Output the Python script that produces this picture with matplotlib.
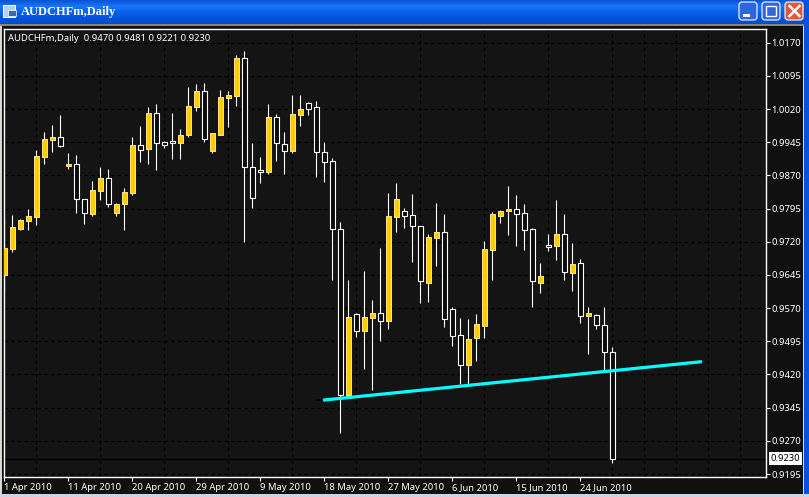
import matplotlib
matplotlib.use("Agg")
import matplotlib.pyplot as plt
import numpy as np
from matplotlib.patches import Rectangle, FancyBboxPatch

# ---- data: daily OHLC ----
high = [.9774,.9781,.9772,.9794,.9927,.9968,.9984,1.0007,.9921,.9916,
        .9817,.9857,.9889,.9884,.9808,.9842,.9957,.9982,1.0025,1.0031,
        .9948,1.0011,.9975,1.0070,1.0077,1.0079,.9966,1.0063,1.0061,1.0142,
        1.0151,.9943,.9912,1.0031,1.0009,.9968,1.0052,1.0052,1.0036,1.0038,
        .9946,.9909,.9765,.9633,.9559,.9654,.9588,.9706,.9830,.9853,
        .9796,.9828,.9756,.9738,.9808,.9783,.9572,.9548,.9545,.9557,
        .9722,.9787,.9792,.9846,.9826,.9805,.9751,.9672,.9738,.9814,
        .9783,.9717,.9681,.9572,.9557,.9572,.9481]
low = [.9609,.9697,.9747,.9747,.9758,.9896,.9923,.9934,.9884,.9785,
       .9760,.9778,.9814,.9799,.9778,.9747,.9826,.9900,.9896,.9882,
       .9932,.9907,.9907,.9957,1.0016,.9946,.9921,.9961,.9979,1.0027,
       .9719,.9796,.9853,.9873,.9903,.9873,.9921,.9982,1.0007,.9866,
       .9855,.9633,.9288,.9369,.9505,.9432,.9385,.9496,.9523,.9742,
       .9751,.9674,.9582,.9584,.9665,.9527,.9484,.9398,.9398,.9450,
       .9503,.9633,.9762,.9735,.9710,.9701,.9572,.9604,.9699,.9679,
       .9633,.9609,.9536,.9466,.9523,.9430,.9221]
open_ = [.9645,.9704,.9749,.9767,.9776,.9912,.9950,.9957,.9891,.9896,
         .9817,.9783,.9835,.9864,.9785,.9805,.9830,.9939,.9930,1.0011,
         .9946,.9948,.9943,.9961,1.0025,1.0061,.9925,.9961,1.0045,1.0050,
         1.0135,.9889,.9882,.9878,1.0002,.9941,.9925,1.0007,1.0034,1.0025,
         .9923,.9903,.9749,.9374,.9557,.9518,.9548,.9559,.9541,.9776,
         .9790,.9781,.9756,.9627,.9729,.9742,.9568,.9509,.9441,.9503,
         .9530,.9701,.9778,.9790,.9794,.9785,.9749,.9627,.9713,.9710,
         .9738,.9649,.9672,.9552,.9554,.9532,.9470]
close = [.9706,.9753,.9769,.9778,.9914,.9952,.9957,.9937,.9896,.9817,
         .9785,.9837,.9864,.9805,.9805,.9833,.9939,.9927,1.0011,.9943,
         .9939,.9943,.9961,1.0027,1.0061,.9952,.9966,1.0047,1.0052,1.0135,
         .9889,.9819,.9878,1.0002,.9943,.9925,1.0009,1.0020,1.0020,.9923,
         .9900,.9749,.9374,.9550,.9518,.9550,.9559,.9541,.9778,.9817,
         .9778,.9756,.9631,.9731,.9742,.9545,.9507,.9441,.9500,.9534,
         .9704,.9783,.9790,.9794,.9783,.9747,.9631,.9642,.9708,.9738,
         .9652,.9670,.9552,.9559,.9532,.9470,.9230]
date_labels = ["1 Apr 2010", "11 Apr 2010", "20 Apr 2010", "29 Apr 2010", "9 May 2010",
               "18 May 2010", "27 May 2010", "6 Jun 2010", "15 Jun 2010", "24 Jun 2010"]
price_ticks = [1.0170, 1.0095, 1.0020, .9945, .9870, .9795, .9720,
               .9645, .9570, .9495, .9420, .9345, .9270, .9195]
trend_x = [39.84, 87.2]
trend_y = [0.9362, 0.9449]

W, H = 809, 497
FONT = "Noto Sans"
FS = 6.8
BG = "#141414"
YELLOW = "#FFCC00"

fig = plt.figure(figsize=(W / 100, H / 100), dpi=100, facecolor="#101010")

# ---- window chrome, in pixel coordinates ----
ch = fig.add_axes([0, 0, 1, 1], zorder=0)
ch.set_xlim(0, W); ch.set_ylim(H, 0); ch.axis("off")
stops = np.array([[0.04, 0.33, 0.85], [0.10, 0.46, 0.98], [0.04, 0.38, 0.92],
                  [0.00, 0.33, 0.88], [0.00, 0.30, 0.80]])
grad = np.array([[stops[min(int(t * 4), 3)] * (1 - (t * 4 - min(int(t * 4), 3))) +
                  stops[min(int(t * 4), 3) + 1] * (t * 4 - min(int(t * 4), 3))]
                 for t in np.linspace(0, 1, 24)])
ch.imshow(grad, extent=(0, W, 24, 0), aspect="auto", interpolation="bilinear", zorder=1)
ch.set_xlim(0, W); ch.set_ylim(H, 0)
ch.add_patch(Rectangle((0, 23.5), W, 2, fc="#8a8778", ec="none", zorder=2))
ch.add_patch(Rectangle((0, 25.5), 2.5, H, fc="#d8d8d0", ec="none", zorder=2))
ch.add_patch(Rectangle((803, 25.5), 1.5, H, fc="#d8d8d0", ec="none", zorder=2))
ch.add_patch(Rectangle((804.5, 0), 5, H, fc="#0a50d8", ec="none", zorder=2))
ch.add_patch(Rectangle((0, 494), W, 3, fc="#c8d4e8", ec="none", zorder=2))
ch.text(21, 11.5, "AUDCHFm,Daily", family="Liberation Serif", weight="bold",
        fontsize=9.0, color="white", va="center", ha="left", zorder=3)
ch.add_patch(Rectangle((3, 5), 12, 12, fc="#b8d0f0", ec="white", lw=0.7, zorder=3))
ch.add_patch(Rectangle((8, 10), 8, 6, fc="#3a6ab0", ec="white", lw=0.5, zorder=3))
for x0, col in [(739, "#2f66e0"), (762, "#2f66e0"), (785, "#e0583a")]:
    ch.add_patch(FancyBboxPatch((x0, 2), 18, 18, boxstyle="round,pad=0,rounding_size=3",
                                fc=col, ec="white", lw=0.8, zorder=3))
ch.add_patch(Rectangle((743, 13.5), 7, 3, fc="white", ec="none", zorder=4))
ch.add_patch(Rectangle((766, 6), 10, 9.5, fc="none", ec="white", lw=1, zorder=4))
ch.plot([789.5, 799.5], [6, 16], color="white", lw=1.8, zorder=4)
ch.plot([789.5, 799.5], [16, 6], color="white", lw=1.8, zorder=4)

# ---- chart axes ----
L, R, T, B = 3.5, 765.7, 28.5, 477.3
ax = fig.add_axes([L / W, 1 - B / H, (R - L) / W, (B - T) / H], zorder=1, facecolor=BG)
ax.set_xlim((L - 4.3) / 8, (R - 4.3) / 8)
ax.set_ylim(1.026653 - 0.00022606 * B, 1.026653 - 0.00022606 * T)

idx = np.arange(len(close))
o, h, l, c = map(np.array, (open_, high, low, close))
up = c >= o
ax.vlines(idx, l, h, color="white", lw=0.8, zorder=3)
ax.bar(idx[~up], np.abs(c - o)[~up], bottom=np.minimum(o, c)[~up], width=0.58,
       facecolor="#0a0a0a", edgecolor="white", linewidth=0.8, zorder=5)
ax.bar(idx[up], np.abs(c - o)[up], bottom=np.minimum(o, c)[up], width=0.58,
       facecolor=YELLOW, edgecolor="#FFE88A", linewidth=0.7, zorder=5)

ax.axhline(close[-1], color="black", lw=0.8, zorder=2)
ax.plot([trend_x[0] - 0.7, trend_x[0]], [trend_y[0], trend_y[0]], color="black", lw=1.2, zorder=6)
ax.plot(trend_x, trend_y, color="#00FFFF", lw=2.3, solid_capstyle="butt", zorder=7)

ax.yaxis.tick_right()
ax.set_yticks(price_ticks)
ax.set_yticklabels([f"{p:.4f}" for p in price_ticks], family=FONT, fontsize=FS, color="white")
ax.set_xticks(np.arange(len(date_labels)) * 8)
ax.set_xticklabels(date_labels, family=FONT, fontsize=FS, color="white", ha="left")
ax.set_xticks(np.arange(4, 96, 4), minor=True)
ax.tick_params(axis="y", length=3, width=0.8, color="white", pad=1)
ax.tick_params(axis="x", which="major", length=3, width=0.8, color="white", pad=1, direction="out")
ax.tick_params(axis="x", which="minor", length=0)
for lab in ax.get_xticklabels():
    lab.set_x(lab.get_position()[0])
ax.grid(True, which="major", axis="y", color="black", lw=0.8, ls=(0, (3, 3)), zorder=1)
ax.grid(True, which="minor", axis="x", color="black", lw=0.8, ls=(0, (3, 3)), zorder=1)
ax.set_axisbelow(True)
for s in ax.spines.values():
    s.set_color("white"); s.set_linewidth(1.0)

ax.annotate(f"AUDCHFm,Daily  {open_[-1]:.4f} {high[-1]:.4f} {low[-1]:.4f} {close[-1]:.4f}",
            xy=(0, 1), xycoords="axes fraction", xytext=(3, -7.5), textcoords="offset points",
            family=FONT, fontsize=FS, color="white", va="center", ha="left", zorder=9)
ax.annotate(f"{close[-1]:.4f}", xy=(1, close[-1]), xycoords=ax.get_yaxis_transform(),
            xytext=(3.6, 0), textcoords="offset points", family=FONT, fontsize=FS,
            color="black", va="center", ha="left", annotation_clip=False, zorder=9,
            bbox=dict(boxstyle="square,pad=0.2", fc="white", ec="none"))

fig.savefig("out.png", dpi=100, facecolor=fig.get_facecolor())
